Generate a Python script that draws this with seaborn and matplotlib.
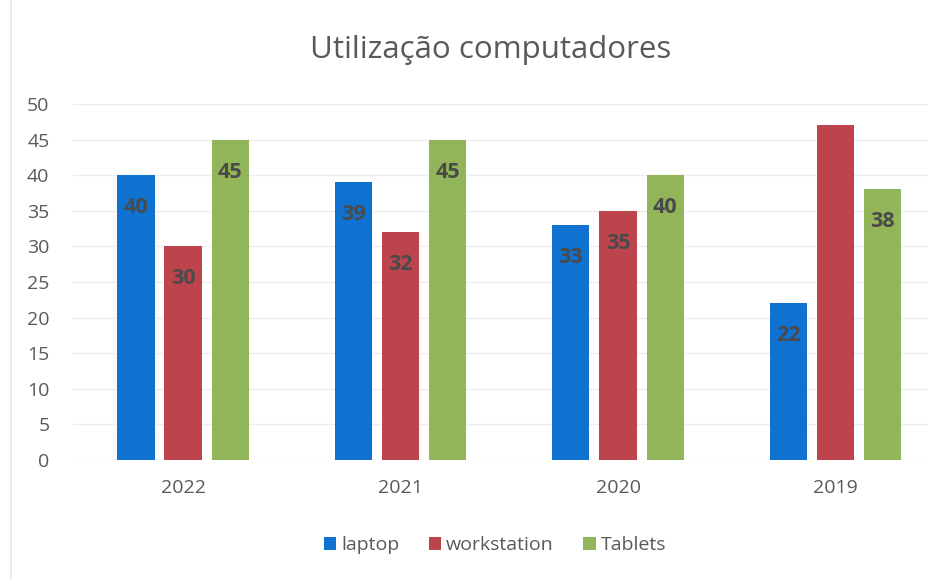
import matplotlib
matplotlib.use("Agg")
import matplotlib.pyplot as plt
import seaborn as sns
import pandas as pd

# Chart data
years = ["2022", "2021", "2020", "2019"]
series = ["laptop", "workstation", "Tablets"]
laptop = [40, 39, 33, 22]
workstation = [30, 32, 35, 47]
tablets = [45, 45, 40, 38]
yticks = [0, 5, 10, 15, 20, 25, 30, 35, 40, 45, 50]

# value labels shown on the bars (the tallest workstation bar has none)
show_label = {
    "laptop": [True, True, True, True],
    "workstation": [True, True, True, False],
    "Tablets": [True, True, True, True],
}

colors = ["#0f72d0", "#bd434c", "#93b55a"]

df = pd.DataFrame({
    "year": years * 3,
    "series": [s for s in series for _ in years],
    "value": laptop + workstation + tablets,
})

sns.set_theme(style="white")
plt.rcParams["font.family"] = ["Open Sans", "DejaVu Sans"]

fig = plt.figure(figsize=(9.29, 5.79), dpi=100)
ax = fig.add_axes([73 / 929, 119 / 579, (929 - 73) / 929, 356 / 579])

sns.barplot(data=df, x="year", y="value", hue="series", order=years,
            hue_order=series, palette=colors, width=0.65, gap=0.21,
            saturation=1, linewidth=0, ax=ax, legend=True)

ax.set_ylim(0, 50)
ax.set_xlim(-0.506, 3.43)
ax.set_yticks(yticks)
ax.set_yticklabels([str(t) for t in yticks])
ax.set_xlabel("")
ax.set_ylabel("")
ax.grid(axis="y", color="#eeeeee", linewidth=1)
ax.set_axisbelow(True)
for s in ax.spines.values():
    s.set_visible(False)
ax.tick_params(axis="both", length=0, labelsize=14, colors="#595959")
ax.tick_params(axis="y", pad=17)
ax.tick_params(axis="x", pad=14)
for lbl in ax.get_yticklabels():
    lbl.set_horizontalalignment("right")

# value labels inside the top of each bar
for cont, name in zip(ax.containers, series):
    flags = show_label[name]
    labels = [f"{v:g}" if f else "" for v, f in zip(cont.datavalues, flags)]
    ax.bar_label(cont, labels=labels, label_type="edge", padding=-31,
                 fontsize=15.5, fontweight="bold", color="#4a4a4a")

fig.text(0.528, 1 - 50 / 579, "Utilização computadores", ha="center",
         va="center", fontsize=22.5, color="#595959")

handles, labs = ax.get_legend_handles_labels()
ax.legend_.remove()
fig.legend(handles, labs, loc="center", bbox_to_anchor=(495 / 929, 1 - 545 / 579),
           ncol=3, frameon=False, fontsize=14, handlelength=0.65,
           handleheight=0.65, handletextpad=0.25, columnspacing=1.5,
           labelcolor="#595959")

# light chart border on the left
fig.add_artist(plt.Line2D([11 / 929, 11 / 929], [0, 1], color="#ececec",
                          linewidth=1.5, transform=fig.transFigure))

fig.savefig("out.png", dpi=100)
